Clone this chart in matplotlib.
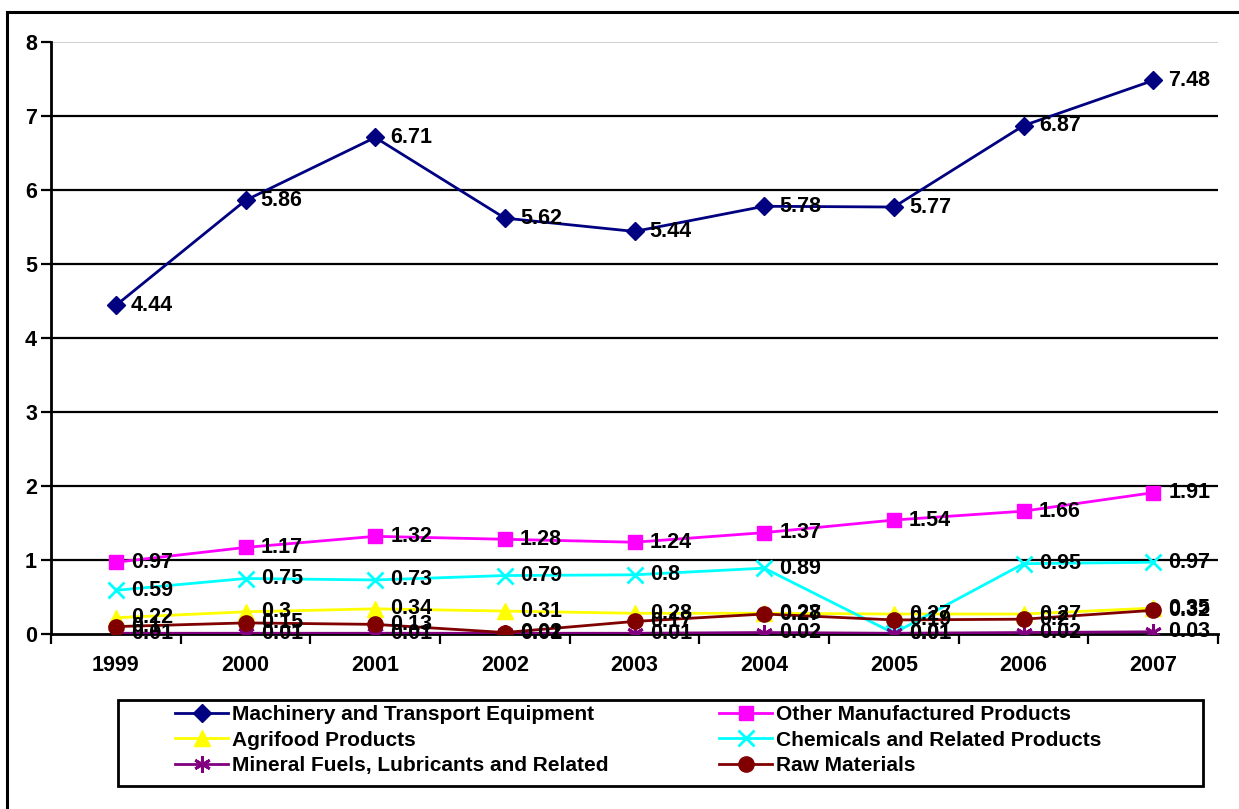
import matplotlib.pyplot as plt
from matplotlib.patches import Rectangle

years = ['1999', '2000', '2001', '2002', '2003', '2004', '2005', '2006', '2007']

machinery = [4.44, 5.86, 6.71, 5.62, 5.44, 5.78, 5.77, 6.87, 7.48]
other_manuf = [0.97, 1.17, 1.32, 1.28, 1.24, 1.37, 1.54, 1.66, 1.91]
agrifood = [0.22, 0.3, 0.34, 0.31, 0.28, 0.28, 0.27, 0.27, 0.35]
chemicals = [0.59, 0.75, 0.73, 0.79, 0.8, 0.89, 0.01, 0.95, 0.97]
mineral_fuels = [0.01, 0.01, 0.01, 0.01, 0.01, 0.02, 0.01, 0.02, 0.03]
raw_materials = [0.1, 0.15, 0.13, 0.02, 0.17, 0.27, 0.19, 0.2, 0.32]

series = [
    ('Machinery and Transport Equipment', machinery, '#000080', 'D', 9, None),
    ('Other Manufactured Products', other_manuf, '#FF00FF', 's', 10, None),
    ('Agrifood Products', agrifood, '#FFFF00', '^', 11, None),
    ('Chemicals and Related Products', chemicals, '#00FFFF', 'x', 11, 2),
    ('Mineral Fuels, Lubricants and Related', mineral_fuels, '#800080', (6, 2, 0), 12, 2),
    ('Raw Materials', raw_materials, '#800000', 'o', 11, None),
]

plt.rcParams['font.family'] = ['Liberation Sans', 'DejaVu Sans']
plt.rcParams['font.weight'] = 'bold'

fig = plt.figure(figsize=(12.39, 8.09), dpi=100)
ax = fig.add_axes([51 / 1239, 1 - 634 / 809, (1218 - 51) / 1239, (634 - 42) / 809])

# outer chart frame
fig.patches.append(Rectangle((7 / 1239, -0.05), 1.1, 1 - 12 / 809 + 0.05,
                             transform=fig.transFigure, fill=False,
                             edgecolor='black', linewidth=2.2, zorder=0))

x = list(range(len(years)))
lines = []
for name, vals, col, mk, ms, mew in series:
    kw = dict(markeredgewidth=mew) if mew else {}
    ln, = ax.plot(x, vals, color=col, linewidth=2, marker=mk, markersize=ms,
                  markerfacecolor=col, markeredgecolor=col, label=name, zorder=3, **kw)
    lines.append(ln)

for name, vals, col, mk, ms, mew in series:
    for xi, v in zip(x, vals):
        ax.annotate(f'{v:g}', (xi, v), xytext=(11, 0), textcoords='offset points',
                    ha='left', va='center', fontsize=15.5, fontweight='bold',
                    color='black', zorder=5)

ax.set_xlim(-0.5, 8.5)
ax.set_ylim(0, 8)
ax.set_yticks(range(0, 9))
for yv in range(1, 8):
    ax.axhline(yv, color='black', linewidth=1.6, zorder=1)
ax.axhline(8, color='#c8c8c8', linewidth=1.2, zorder=1)

ax.set_xticks(x)
ax.set_xticklabels(years)
ax.set_xticks([i - 0.5 for i in range(len(years) + 1)], minor=True)
ax.tick_params(axis='x', which='major', length=0, pad=15, labelsize=15.5)
ax.tick_params(axis='x', which='minor', length=7, width=1.6, direction='out')
ax.tick_params(axis='y', length=7, width=1.6, direction='out', pad=3, labelsize=15.5)
for lab in ax.get_xticklabels() + ax.get_yticklabels():
    lab.set_fontweight('bold')

for side in ['top', 'right']:
    ax.spines[side].set_visible(False)
ax.spines['left'].set_linewidth(2)
ax.spines['bottom'].set_linewidth(2)
ax.spines['bottom'].set_zorder(2)

# legend frame drawn separately so entries can sit at fixed columns
fig.patches.append(Rectangle((118 / 1239, 1 - 786 / 809), (1203 - 118) / 1239, 86 / 809,
                             transform=fig.transFigure, fill=False,
                             edgecolor='black', linewidth=2, zorder=0))
order = [0, 2, 4, 1, 3, 5]
leg = fig.legend([lines[i] for i in order], [series[i][0] for i in order],
                 loc='upper left', ncol=2, bbox_to_anchor=(175 / 1239, 1 - 705 / 809),
                 fontsize=15, frameon=False, borderpad=0, borderaxespad=0,
                 handlelength=2.55, handletextpad=0.2,
                 labelspacing=0.32, columnspacing=5.3)
for t in leg.get_texts():
    t.set_fontweight('bold')

fig.savefig('out.png', dpi=100, facecolor='white')
